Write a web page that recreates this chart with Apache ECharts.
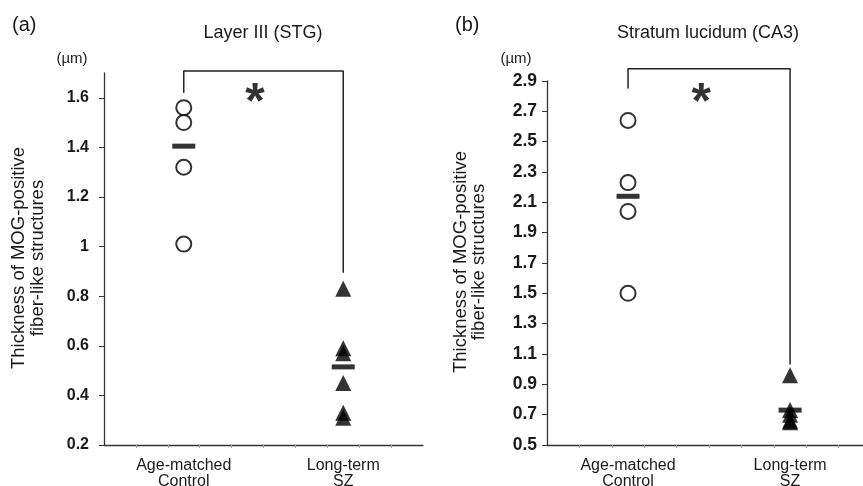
<!DOCTYPE html>
<html>
<head>
<meta charset="utf-8">
<script src="https://cdn.jsdelivr.net/npm/echarts@6/dist/echarts.min.js"></script>
<style>html,body{margin:0;padding:0;background:#fff}#c{width:863px;height:486px}</style>
</head>
<body>
<div id="c"></div>
<script>
// ---- data ----
var groups = ['Age-matched\nControl', 'Long-term\nSZ'];
var groupPos = [2.5, 7.5];
var stgControl = [1.56, 1.50, 1.32, 1.01];
var stgSZ = [0.83, 0.59, 0.57, 0.45, 0.33, 0.31];
var stgMeans = [1.405, 0.515];
var ca3Control = [2.64, 2.23, 2.04, 1.50];
var ca3SZ = [0.96, 0.73, 0.70, 0.66, 0.65];
var ca3Means = [2.14, 0.73];
var stgTicks = [0.2, 0.4, 0.6, 0.8, 1, 1.2, 1.4, 1.6];
var ca3Ticks = [0.5, 0.7, 0.9, 1.1, 1.3, 1.5, 1.7, 1.9, 2.1, 2.3, 2.5, 2.7, 2.9];
var xTicks = [1, 2, 3, 4, 5, 6, 7, 8, 9];
// significance bracket [left-low, top, right-low]
var stgBracket = [1.62, 1.708, 0.895];
var ca3Bracket = [2.85, 2.98, 1.03];
var stgStar = [4.73, 1.575];
var ca3Star = [4.76, 2.75];

var FONT = 'Liberation Sans, Arial, sans-serif';
var axisColor = '#333';

function xAxisDef(gi, max) {
  return {
    type: 'value', gridIndex: gi, min: 0, max: max, interval: 1,
    axisLine: { show: true, lineStyle: { color: axisColor, width: 1.3 } },
    axisTick: { show: true, customValues: xTicks, length: 3, lineStyle: { color: '#999' } },
    axisLabel: {
      customValues: groupPos, margin: 13, fontFamily: FONT, fontSize: 16, color: '#1a1a1a', lineHeight: 16,
      formatter: function (v) { var i = groupPos.indexOf(v); return i >= 0 ? groups[i] : ''; }
    },
    splitLine: { show: false }
  };
}
function yAxisDef(gi, min, max, ticks, margin, fs) {
  return {
    type: 'value', gridIndex: gi, min: min, max: max, interval: 0.2,
    axisLine: { show: true, lineStyle: { color: axisColor, width: 1.3 } },
    axisTick: { show: true, customValues: ticks, length: 5, inside: false, lineStyle: { color: axisColor } },
    axisLabel: {
      customValues: ticks, margin: margin, fontFamily: FONT, fontSize: fs, fontWeight: 'bold', color: '#1a1a1a',
      formatter: function (v) { return String(Math.round(v * 10) / 10); }
    },
    splitLine: { show: false }
  };
}
function pts(x, arr) { return arr.map(function (v) { return [x, v]; }); }
function bracket(b) {
  return [[groupPos[0], b[0]], [groupPos[0], b[1]], [groupPos[1], b[1]], [groupPos[1], b[2]]];
}
function panelSeries(gi, ctrl, sz, means, br, star) {
  return [
    { type: 'scatter', xAxisIndex: gi, yAxisIndex: gi, data: pts(groupPos[0], ctrl), symbol: 'circle', symbolSize: 15,
      itemStyle: { color: '#fff', borderColor: '#000', borderWidth: 2 }, z: 3, silent: true },
    { type: 'scatter', xAxisIndex: gi, yAxisIndex: gi, data: pts(groupPos[1], sz), symbol: 'triangle', symbolSize: 16,
      itemStyle: { color: '#000' }, z: 3, silent: true },
    { type: 'scatter', xAxisIndex: gi, yAxisIndex: gi, data: [[groupPos[0], means[0]], [groupPos[1], means[1]]],
      symbol: 'rect', symbolSize: [23, 5], itemStyle: { color: '#000' }, z: 4, silent: true },
    { type: 'line', xAxisIndex: gi, yAxisIndex: gi, data: bracket(br), symbol: 'none', clip: false,
      lineStyle: { color: '#222', width: 1.5 }, z: 2, silent: true },
    { type: 'scatter', xAxisIndex: gi, yAxisIndex: gi, data: [star], symbolSize: 0, silent: true, z: 5,
      label: { show: true, position: 'inside', formatter: '*', fontSize: 50, fontWeight: 'bold', fontFamily: FONT, color: '#000' } }
  ];
}

var chart = echarts.init(document.getElementById('c'), null, { renderer: 'canvas' });
chart.setOption({
  animation: false,
  backgroundColor: '#fff',
  grid: [
    { left: 104, right: 440, top: 73, bottom: 41, outerBoundsMode: 'none', containLabel: false },
    { left: 547, right: 0, top: 81, bottom: 41, outerBoundsMode: 'none', containLabel: false }
  ],
  xAxis: [xAxisDef(0, 10), xAxisDef(1, 9.75)],
  yAxis: [yAxisDef(0, 0.2, 1.7, stgTicks, 15, 16), yAxisDef(1, 0.5, 2.9, ca3Ticks, 10, 17.5)],
  series: [].concat(
    panelSeries(0, stgControl, stgSZ, stgMeans, stgBracket, stgStar),
    panelSeries(1, ca3Control, ca3SZ, ca3Means, ca3Bracket, ca3Star)
  ),
  graphic: [
    { type: 'text', left: 12, top: 15, style: { text: '(a)', font: '20px ' + FONT, fill: '#1a1a1a' } },
    { type: 'text', left: 455, top: 15, style: { text: '(b)', font: '20px ' + FONT, fill: '#1a1a1a' } },
    { type: 'text', x: 263, y: 33, style: { text: 'Layer III (STG)', font: '18px ' + FONT, fill: '#1a1a1a', align: 'center', verticalAlign: 'middle' } },
    { type: 'text', x: 708, y: 33, style: { text: 'Stratum lucidum (CA3)', font: '18px ' + FONT, fill: '#1a1a1a', align: 'center', verticalAlign: 'middle' } },
    { type: 'text', x: 72, y: 59, style: { text: '(µm)', font: '15px ' + FONT, fill: '#1a1a1a', align: 'center', verticalAlign: 'middle' } },
    { type: 'text', x: 516, y: 59, style: { text: '(µm)', font: '15px ' + FONT, fill: '#1a1a1a', align: 'center', verticalAlign: 'middle' } },
    { type: 'text', x: 19, y: 258, rotation: Math.PI / 2, style: { text: 'Thickness of MOG-positive', font: '18.5px ' + FONT, fill: '#1a1a1a', align: 'center', verticalAlign: 'middle' } },
    { type: 'text', x: 38, y: 258, rotation: Math.PI / 2, style: { text: 'fiber-like structures', font: '18.5px ' + FONT, fill: '#1a1a1a', align: 'center', verticalAlign: 'middle' } },
    { type: 'text', x: 461, y: 262, rotation: Math.PI / 2, style: { text: 'Thickness of MOG-positive', font: '18.5px ' + FONT, fill: '#1a1a1a', align: 'center', verticalAlign: 'middle' } },
    { type: 'text', x: 479, y: 262, rotation: Math.PI / 2, style: { text: 'fiber-like structures', font: '18.5px ' + FONT, fill: '#1a1a1a', align: 'center', verticalAlign: 'middle' } }
  ]
});
</script>
</body>
</html>
